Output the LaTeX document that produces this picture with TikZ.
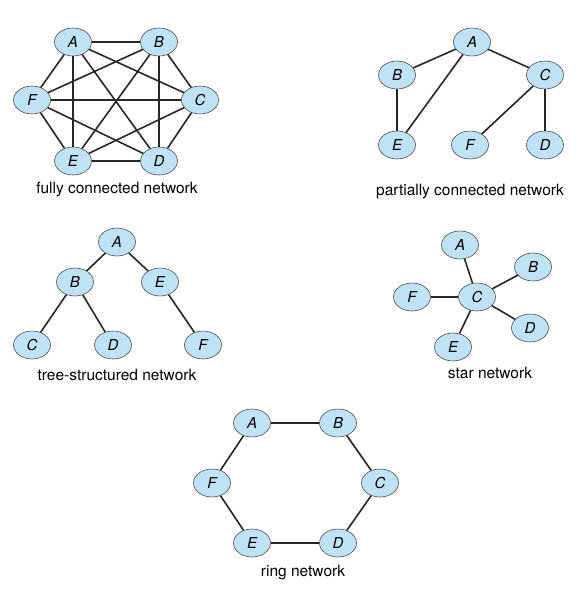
\documentclass[tikz,border=0pt]{standalone}
\usepackage{fontspec}
\setmainfont{TeX Gyre Heros}
\usepackage{tikz}
\usetikzlibrary{positioning}
\usetikzlibrary{shapes.geometric}
\definecolor{nodeblue}{RGB}{192,226,246}

\begin{document}
\begin{tikzpicture}[-,x=1pt,y=-1pt,on grid,
				main node/.style={ellipse,fill=nodeblue,draw=black!70,line width=0.6pt,
					minimum width=37pt,minimum height=28pt,inner sep=0pt,
					font=\fontsize{15}{18}\selectfont\itshape},
				net label/.style={font=\fontsize{15.5}{18}\selectfont},
				link/.style={line width=1.6pt,draw=black!85}]
				\useasboundingbox (0,0) rectangle (579,594);
				
				% fully connected
				\node[main node] (A1) at (73,42) {A};
				\node[main node] (B1) [right=86pt of A1] {B};
				\node[main node] (F1) [below left=58pt and 41pt of A1] {F};
				\node[main node] (C1) [below right=58pt and 41pt of B1] {C};
				\node[main node] (E1) [below=119pt of A1] {E};
				\node[main node] (D1) [below=119pt of B1] {D};
				\node[net label] (L1) at (117,190) {fully connected network};
				\path[link]
				(A1) edge (B1)
				(A1) edge (C1)
				(A1) edge (D1)
				(A1) edge (E1)
				(A1) edge (F1)
				(B1) edge (C1)
				(B1) edge (D1)
				(B1) edge (E1)
				(B1) edge (F1)
				(C1) edge (D1)
				(C1) edge (E1)
				(C1) edge (F1)
				(D1) edge (E1)
				(D1) edge (F1)
				(E1) edge (F1);
				
				% partially connected
				\node[main node] (A2) at (472,42) {A};
				\node[main node] (B2) [below left=33pt and 75pt of A2] {B};
				\node[main node] (C2) [below right=33pt and 73pt of A2] {C};
				\node[main node] (E2) [below=70pt of B2] {E};
				\node[main node] (D2) [below=70pt of C2] {D};
				\node[main node] (F2) [left=75pt of D2] {F};
				\node[net label] (L2) at (470,192) {partially connected network};
				\path[link]
				(A2) edge (B2)
				(A2) edge (C2)
				(A2) edge (E2)
				(B2) edge (E2)
				(C2) edge (F2)
				(C2) edge (D2);
				
				% tree
				\node[main node] (A3) at (117,242) {A};
				\node[main node] (B3) [below left=40pt and 42pt of A3] {B};
				\node[main node] (E3) [below right=40pt and 43pt of A3] {E};
				\node[main node] (C3) [below left=63pt and 43pt of B3] {C};
				\node[main node] (D3) [below right=63pt and 38pt of B3] {D};
				\node[main node] (F3) [below right=63pt and 43pt of E3] {F};
				\node[net label] (L3) at (117,375) {tree-structured network};
				\path[link]
				(A3) edge (B3)
				(A3) edge (E3)
				(B3) edge (C3)
				(B3) edge (D3)
				(E3) edge (F3);
				
				% star
				\node[main node] (C4) at (477,297) {C};
				\node[main node] (A4) [above left=52pt and 17pt of C4] {A};
				\node[main node] (B4) [above right=30pt and 56pt of C4] {B};
				\node[main node] (F4) [left=65pt of C4] {F};
				\node[main node] (D4) [below right=31pt and 53pt of C4] {D};
				\node[main node] (E4) [below left=50pt and 24pt of C4] {E};
				\node[net label] (L4) at (490,373) {star network};
				\path[link]
				(C4) edge (A4)
				(C4) edge (B4)
				(C4) edge (D4)
				(C4) edge (E4)
				(C4) edge (F4);
				
				% ring
				\node[main node] (A5) at (252,423) {A};
				\node[main node] (B5) [right=86pt of A5] {B};
				\node[main node] (F5) [below left=60pt and 40pt of A5] {F};
				\node[main node] (C5) [below right=60pt and 42pt of B5] {C};
				\node[main node] (E5) [below=120pt of A5] {E};
				\node[main node] (D5) [below=120pt of B5] {D};
				\node[net label] (L5) at (303,573) {ring network};
				\path[link]
				(A5) edge (B5)
				(B5) edge (C5)
				(C5) edge (D5)
				(D5) edge (E5)
				(E5) edge (F5)
				(F5) edge (A5);
			\end{tikzpicture}
\end{document}
